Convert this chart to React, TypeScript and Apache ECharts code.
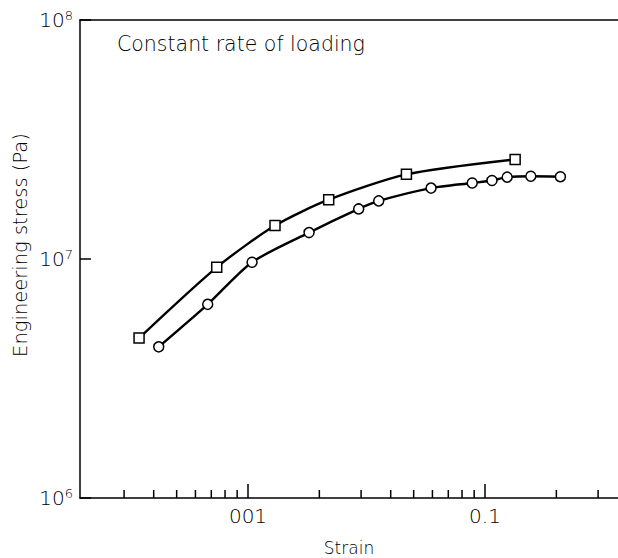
import React, { useEffect, useRef } from "react";
import * as echarts from "echarts";

const squareStrain = [0.00347, 0.00738, 0.013, 0.0219, 0.0466, 0.134];
const squareStress = [4.67e6, 9.23e6, 1.38e7, 1.77e7, 2.26e7, 2.61e7];

const circleStrain = [0.0042, 0.00676, 0.0104, 0.0181, 0.0293, 0.0356, 0.0592, 0.0883, 0.107, 0.124, 0.156, 0.208];
const circleStress = [4.29e6, 6.46e6, 9.69e6, 1.29e7, 1.62e7, 1.75e7, 1.98e7, 2.08e7, 2.13e7, 2.2e7, 2.22e7, 2.21e7];

const xMajorTicks = [0.01, 0.1];
const xMajorLabels = ["001", "0.1"];
const xMinorTicks = [0.003, 0.004, 0.005, 0.006, 0.007, 0.008, 0.009, 0.02, 0.03, 0.04, 0.05, 0.06, 0.07, 0.08, 0.09, 0.2, 0.3];
const yMajorTicks = [1e6, 1e7, 1e8];
const yExponents = ["6", "7", "8"];

const FONT = "DejaVu Sans";
const FW = 200;

export default function App() {
  const ref = useRef<HTMLDivElement>(null);
  useEffect(() => {
    if (!ref.current) return;
    const chart = echarts.init(ref.current, undefined, { renderer: "svg" });
    const nearestIdx = (arr: number[], v: number) => {
      let best = -1;
      arr.forEach((t, i) => {
        if (Math.abs(Math.log10(v) - Math.log10(t)) < 0.01) best = i;
      });
      return best;
    };
    const lineStyle = { color: "#000", width: 2.4 };
    chart.setOption({
      animation: false,
      backgroundColor: "#fff",
      grid: { left: 80, top: 20, right: 0, bottom: 60, outerBoundsMode: "none", containLabel: false },
      xAxis: [
        {
          type: "log",
          min: 0.001955,
          max: 0.364,
          position: "bottom",
          name: "Strain",
          nameLocation: "middle",
          nameGap: 41,
          nameTextStyle: { fontFamily: FONT, fontWeight: FW, fontSize: 17, color: "#000" },
          axisLine: { lineStyle: { color: "#000", width: 1.5 } },
          axisTick: { inside: true, length: 14, lineStyle: { color: "#000", width: 1.5 } },
          axisLabel: {
            showMinLabel: false,
            showMaxLabel: false,
            margin: 8,
            fontFamily: FONT,
            fontWeight: FW,
            fontSize: 20,
            color: "#000",
            formatter: (v: number) => {
              const i = nearestIdx(xMajorTicks, v);
              return i >= 0 ? xMajorLabels[i] : "";
            },
          },
          splitLine: { show: false },
        },
        {
          type: "log",
          min: 0.001955,
          max: 0.364,
          position: "top",
          axisLine: { lineStyle: { color: "#000", width: 1.5 } },
          axisTick: { show: false },
          axisLabel: { show: false },
          splitLine: { show: false },
        },
      ],
      yAxis: {
        type: "log",
        min: 1e6,
        max: 1e8,
        axisLine: { lineStyle: { color: "#000", width: 1.5 } },
        axisTick: { inside: true, length: 11, lineStyle: { color: "#000", width: 1.5 } },
        axisLabel: {
          margin: 7,
          formatter: (v: number) => {
            const i = nearestIdx(yMajorTicks, v);
            return i >= 0 ? "{b|10}{s|" + yExponents[i] + "}" : "";
          },
          rich: {
            b: { fontFamily: FONT, fontWeight: FW, fontSize: 20, color: "#000", lineHeight: 22 },
            s: { fontFamily: FONT, fontWeight: FW, fontSize: 13, color: "#000", verticalAlign: "top", lineHeight: 22, padding: [0, 0, 12, 0] },
          },
        },
        splitLine: { show: false },
      },
      graphic: [
        {
          type: "text",
          left: 117,
          top: 33,
          style: { text: "Constant rate of loading", fontFamily: FONT, fontWeight: FW, fontSize: 20.5, fill: "#000" },
        },
        {
          type: "text",
          x: 20,
          y: 245,
          rotation: Math.PI / 2,
          style: {
            text: "Engineering stress (Pa)",
            fontFamily: FONT,
            fontWeight: FW,
            fontSize: 19.5,
            fill: "#000",
            align: "center",
            verticalAlign: "middle",
          },
        },
      ],
      series: [
        {
          type: "line",
          data: squareStrain.map((x, i) => [x, squareStress[i]]),
          smooth: 0.25,
          symbol: "rect",
          symbolSize: 10,
          lineStyle,
          itemStyle: { color: "#fff", borderColor: "#000", borderWidth: 1.5 },
          z: 3,
        },
        {
          type: "line",
          data: circleStrain.map((x, i) => [x, circleStress[i]]),
          smooth: 0.25,
          symbol: "circle",
          symbolSize: 10,
          lineStyle,
          itemStyle: { color: "#fff", borderColor: "#000", borderWidth: 1.5 },
          z: 3,
        },
        {
          type: "custom",
          silent: true,
          clip: false,
          data: xMinorTicks.map((v) => [v, 1e6]),
          renderItem: (params: any, api: any) => {
            const p = api.coord([api.value(0), api.value(1)]);
            return {
              type: "line",
              shape: { x1: p[0], y1: p[1], x2: p[0], y2: p[1] - 8 },
              style: { stroke: "#000", lineWidth: 1.5 },
            };
          },
          z: 4,
        },
      ],
    });
    return () => chart.dispose();
  }, []);
  return (
    <div
      ref={ref}
      style={{ position: "absolute", left: 0, top: 0, width: 618, height: 558, background: "#fff" }}
    />
  );
}
